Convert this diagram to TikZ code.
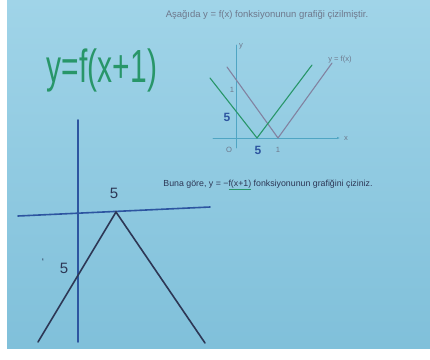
\documentclass[tikz,border=0pt]{standalone}
\usepackage{fontspec}
\setmainfont{Liberation Sans}
\usetikzlibrary{arrows.meta}

\definecolor{boardtop}{RGB}{160,212,232}
\definecolor{boardbot}{RGB}{128,192,218}
\definecolor{pengreen}{RGB}{40,150,105}
\definecolor{penblue}{RGB}{45,85,160}
\definecolor{pendark}{RGB}{45,55,85}
\definecolor{printgray}{RGB}{110,120,140}
\definecolor{fxgray}{RGB}{130,130,160}
\definecolor{axiscyan}{RGB}{80,165,195}

\newlength\ulw
\newcommand\penul[1]{\settowidth\ulw{#1}\makebox[0pt][l]{\textcolor{pengreen}{\rule[-2.6pt]{\ulw}{0.9pt}}}#1}

\begin{document}
\begin{tikzpicture}[x=1pt, y=-1pt, >=Latex, line cap=round,
  printed/.style={font=\fontsize{7.6}{9}\selectfont, text=printgray, inner sep=1pt},
  handnum/.style={font=\fontsize{15}{15}\selectfont, inner sep=0pt},
  bigline/.style={line width=1.6pt},
  smallline/.style={line width=1.1pt}]
\useasboundingbox (0,0) rectangle (430,359);
\fill[white] (0,0) rectangle (430,359);
\shade[top color=boardtop, bottom color=boardbot] (7,0) rectangle (430,348);

% printed question
\node[printed, font=\fontsize{9.5}{11}\selectfont] (q1) at (267,15) {Aşağıda y = f(x) fonksiyonunun grafiği çizilmiştir.};

% handwritten function
\node[font=\fontsize{30}{30}\selectfont, text=pengreen, yscale=1.55] (fx) at (102,70) {y=f(x+1)};

% small graph of y = f(x)
\coordinate (O) at (236,138);
\coordinate (ytop) at (236,45);
\coordinate (ybot) at (236,148);
\coordinate (xleft) at (213,138);
\coordinate (xright) at (340,138);
\draw[axiscyan, line width=0.8pt] (ybot) -- (ytop);
\draw[axiscyan, line width=0.8pt, -{Latex[length=3pt]}] (xleft) -- (xright);
\node[printed] (ylab) at (241,46) {y};
\node[printed] (xlab) at (346,138) {x};
\node[printed] (olab) at (229,150) {O};
\node[printed] (onex) at (278,150) {1};
\node[printed] (oney) at (232,90) {1};
\node[printed] (flab) at (340,60) {y = f(x)};

\coordinate (f1) at (227,67);
\coordinate (fv) at (278,138);
\coordinate (f2) at (332,63);
\draw[fxgray, smallline] (f1) -- (fv) -- (f2);

\coordinate (g1) at (210,78);
\coordinate (gv) at (257,138);
\coordinate (g2) at (312,65);
\draw[pengreen, smallline] (g1) -- (gv) -- (g2);

\node[handnum, text=penblue, font=\fontsize{12}{12}\bfseries] (s1) at (227,117) {5};
\node[handnum, text=penblue, font=\fontsize{12}{12}\bfseries] (s2) at (258,150) {5};

% printed task
\node[printed, text=pendark, font=\fontsize{8.8}{10}\selectfont] (q2) at (268,185) {Buna göre, y = −\penul{f(x+1)} fonksiyonunun grafiğini çiziniz.};

% hand drawn answer
\coordinate (vtop) at (78,120);
\coordinate (vbot) at (78,342);
\coordinate (hleft) at (18,216);
\coordinate (hright) at (210,207);
\draw[penblue, bigline] (vtop) -- (vbot);
\draw[penblue, bigline] (hleft) -- (hright);

\coordinate (apex) at (116,212);
\coordinate (lend) at (38,342);
\coordinate (rend) at (205,343);
\draw[pendark, bigline] (lend) -- (apex) -- (rend);

\node[handnum, text=pendark] (a5) at (114,193) {5};
\node[handnum, text=pendark] (b5) at (64,268) {5};
\node[handnum, text=pendark, font=\fontsize{10}{10}\selectfont] (tick) at (43,262) {`};
\end{tikzpicture}
\end{document}
